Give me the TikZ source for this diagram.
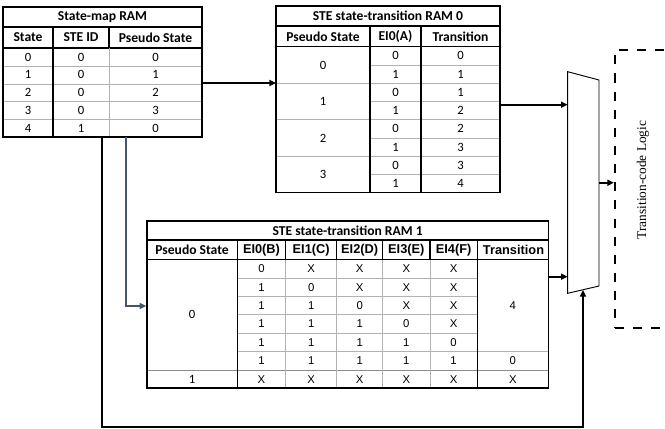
\documentclass[tikz,border=0pt]{standalone}
\usepackage{fontspec}
\setmainfont{Carlito}
\newfontfamily\arialfont{Liberation Sans}
\newfontfamily\timesfont{Liberation Serif}
\usepackage{tikz}
\usetikzlibrary{arrows.meta,fit}
\definecolor{slate}{RGB}{68,84,106}

\begin{document}
\begin{tikzpicture}[x=0.75pt,y=-0.75pt,
	hd/.style={font=\fontsize{10.2}{11}\selectfont\bfseries},
	cell/.style={font=\fontsize{9.5}{10}\selectfont},
	acell/.style={font=\arialfont\fontsize{8.5}{9}\selectfont},
	ahd/.style={font=\arialfont\fontsize{9.6}{10}\selectfont\bfseries},
	frame/.style={draw, line width=1.1pt, inner sep=0pt},
	blk/.style={line width=0.8pt},
	grd/.style={draw=black!30, line width=0.6pt},
	conn/.style={line width=1.5pt, -{Triangle[length=5pt,width=4.5pt]}}]
	\clip (0,0) rectangle (665,429);

	% State-map RAM
	\foreach \y in {66,84,101,119} \draw[grd] (3,\y) -- (202,\y);
	\draw[blk] (3,27) -- (202,27) (3,48) -- (202,48);
	\draw[blk] (53,27) -- (53,137);
	\draw[grd] (109,48) -- (109,137);
	\draw[blk] (109,27) -- (109,48);
	\node[frame, fit={(3,7) (202,137)}] (smap) {};
	\node[hd] (smap-t) at (102.5,17) {State-map RAM};
	\node[hd] (smap-h1) at (28,37.5) {State};
	\node[hd] (smap-h2) at (81,37.5) {STE ID};
	\node[hd] (smap-h3) at (155.5,37.5) {Pseudo State};
	\foreach \s/\id/\ps [count=\i] in {0/0/0,1/0/1,2/0/2,3/0/3,4/1/0} {
		\node[cell] (smap-a\i) at (28,{39.2+17.8*\i}) {\s};
		\node[cell] (smap-b\i) at (81,{39.2+17.8*\i}) {\id};
		\node[cell] (smap-c\i) at (155.5,{39.2+17.8*\i}) {\ps};
	}

	% STE state-transition RAM 0
	\foreach \y in {65,101.5,138,174.5} \draw[grd] (370,\y) -- (500,\y);
	\foreach \y in {83.2,119.7,156.2} \draw[grd] (276,\y) -- (500,\y);
	\draw[blk] (276,26) -- (500,26) (276,46.7) -- (500,46.7);
	\draw[blk] (370,26) -- (370,192.7) (421,26) -- (421,192.7);
	\node[frame, fit={(276,6) (500,192.7)}] (ram0) {};
	\node[hd] (ram0-t) at (388,16) {STE state-transition RAM 0};
	\node[hd] (ram0-h1) at (323,36.3) {Pseudo State};
	\node[hd] (ram0-h2) at (395.5,36.3) {EI0(A)};
	\node[hd] (ram0-h3) at (460.5,36.3) {Transition};
	\foreach \g in {0,...,3}
		\node[cell] (ram0-p\g) at (323,{46.7+36.5*(\g+0.5)}) {\g};
	\foreach \e/\t [count=\r] in {0/0,1/1,0/1,1/2,0/2,1/3,0/3,1/4} {
		\node[cell] (ram0-e\r) at (395.5,{46.7+18.25*(\r-0.5)}) {\e};
		\node[cell] (ram0-x\r) at (460.5,{46.7+18.25*(\r-0.5)}) {\t};
	}

	% STE state-transition RAM 1
	\foreach \y in {277.9,296.3,314.7,333.1} \draw[grd] (237.3,\y) -- (477.3,\y);
	\draw[grd] (237.3,351.5) -- (548.3,351.5);
	\draw[draw=black!45, line width=0.7pt] (147,370) -- (548.3,370);
	\foreach \x in {285.7,336.7,382.7,430} {
		\draw[grd] (\x,259.5) -- (\x,388);
		\draw[blk] (\x,240) -- (\x,259.5);
	}
	\draw[blk] (147,240) -- (548.3,240) (147,259.5) -- (548.3,259.5);
	\draw[blk] (237.3,240) -- (237.3,388) (477.3,240) -- (477.3,388);
	\node[frame, fit={(147,221) (548.3,388)}] (ram1) {};
	\node[hd] (ram1-t) at (347.6,230.5) {STE state-transition RAM 1};
	\node[hd] (ram1-h0) at (192,249.8) {Pseudo State};
	\foreach \lbl/\x [count=\c] in {EI0(B)/261.5,EI1(C)/311.2,EI2(D)/359.7,EI3(E)/406.3,EI4(F)/453.6}
		\node[ahd] (ram1-h\c) at (\x,249.8) {\lbl};
	\node[ahd] (ram1-h6) at (513.5,249.8) {Transition};
	\foreach \va/\vb/\vc/\vd/\ve [count=\r] in {0/X/X/X/X,1/0/X/X/X,1/1/0/X/X,1/1/1/0/X,1/1/1/1/0,1/1/1/1/1,X/X/X/X/X} {
		\node[acell] (ram1-a\r) at (261.5,{259.5+18.42*(\r-0.5)}) {\va};
		\node[acell] (ram1-b\r) at (311.2,{259.5+18.42*(\r-0.5)}) {\vb};
		\node[acell] (ram1-c\r) at (359.7,{259.5+18.42*(\r-0.5)}) {\vc};
		\node[acell] (ram1-d\r) at (406.3,{259.5+18.42*(\r-0.5)}) {\vd};
		\node[acell] (ram1-e\r) at (453.6,{259.5+18.42*(\r-0.5)}) {\ve};
	}
	\node[cell] (ram1-p0) at (192,314.7) {0};
	\node[cell] (ram1-p1) at (192,379.2) {1};
	\node[acell] (ram1-x1) at (512.8,305.5) {4};
	\node[acell] (ram1-x2) at (512.8,360.7) {0};
	\node[acell] (ram1-x3) at (512.8,379.2) {X};

	% mux
	\draw[line width=0.7pt] (567.7,71.7) coordinate (mux-nw) -- (599,80) coordinate (mux-ne)
		-- (599,286) coordinate (mux-se) -- (567.7,293.3) coordinate (mux-sw) -- cycle;
	\coordinate (mux-in0) at (567.7,104.7);
	\coordinate (mux-in1) at (567.7,276.7);
	\coordinate (mux-out) at (599,182.7);
	\coordinate (mux-sel) at (583,290);

	% transition-code logic
	\node[draw, line width=1.5pt, dash pattern=on 6.8pt off 6.8pt, inner sep=0pt,
		fit={(615,50) (700,328)}] (tcl) {};
	\node[rotate=90, font=\timesfont\fontsize{10}{12}\selectfont] (tcl-t) at (643,180) {Transition-code Logic};

	% connectors
	\coordinate (ram0-in) at (276,83);
	\draw[conn] (smap.east |- ram0-in) -- (ram0-in);
	\draw[conn] (ram0.east |- mux-in0) -- (mux-in0);
	\draw[conn] (ram1.east |- mux-in1) -- (mux-in1);
	\draw[conn] (mux-out) -- (tcl.west |- mux-out);
	\coordinate (fb) at (102,137);
	\draw[conn] (fb) -- (102,427) -| (mux-sel);
	\coordinate (sm) at (126,137);
	\draw[line width=1.2pt, slate, -{Triangle[length=5pt,width=4.5pt]}] (sm) |- (ram1.west |- 0,306);
\end{tikzpicture}
\end{document}
